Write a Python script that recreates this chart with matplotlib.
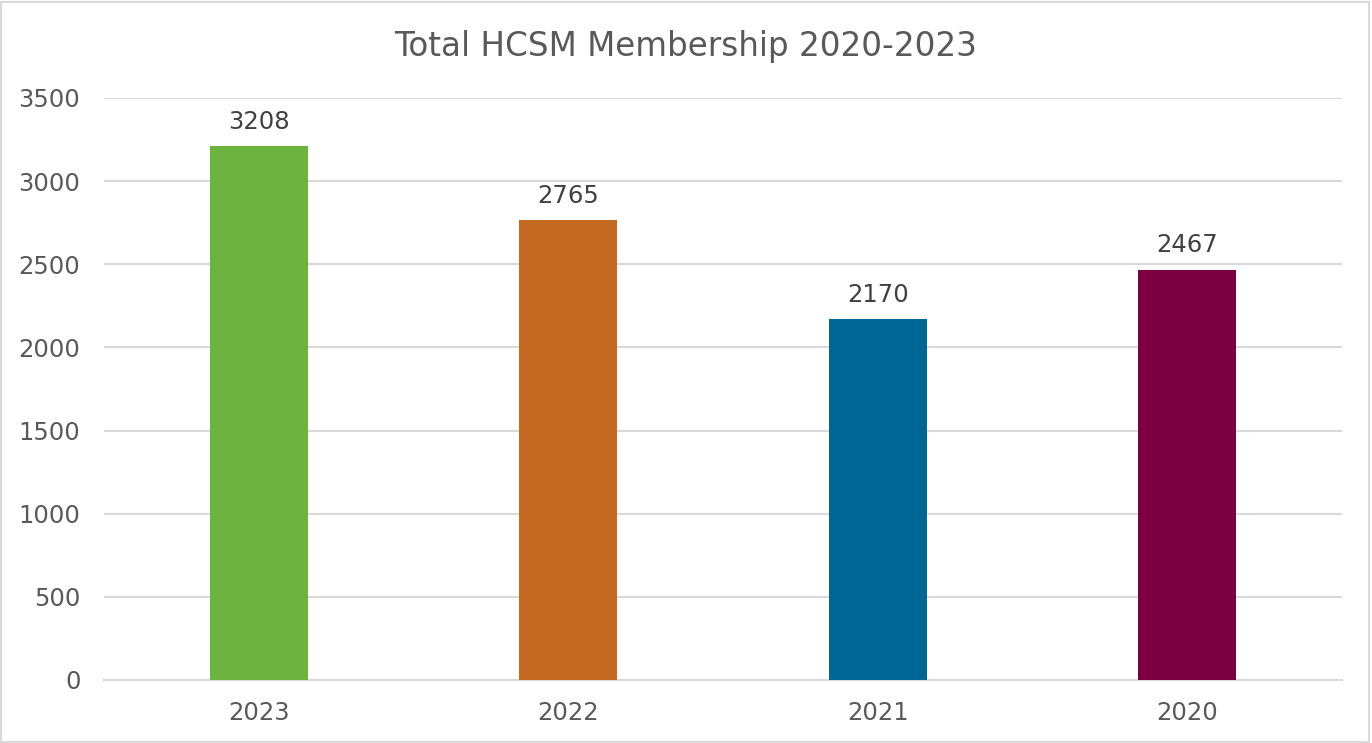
import matplotlib.pyplot as plt
from matplotlib.patches import Rectangle

years = ['2023', '2022', '2021', '2020']
members = [3208, 2765, 2170, 2467]
colors = ['#6db33f', '#c46a23', '#006695', '#7b0041']

fig = plt.figure(figsize=(13.72, 7.43), dpi=100)
ax = fig.add_axes([0.0758, 0.0848, 0.9022, 0.7835])

x = range(len(years))
bars = ax.bar(x, members, width=0.317, color=colors, zorder=3)

ax.set_xlim(-0.5, len(years) - 0.5)
ax.set_ylim(0, 3500)
ax.set_yticks(range(0, 3501, 500))
ax.set_xticks(list(x))
ax.set_xticklabels(years)

ax.grid(axis='y', color='#d9d9d9', linewidth=1.5, zorder=0)
for s in ['top', 'right', 'left']:
    ax.spines[s].set_visible(False)
ax.spines['bottom'].set_color('#d9d9d9')
ax.spines['bottom'].set_linewidth(1.5)
ax.tick_params(length=0, labelsize=17.5, colors='#595959')
ax.tick_params(axis='x', pad=15)
ax.tick_params(axis='y', pad=17)

for b, v in zip(bars, members):
    ax.annotate(str(v), (b.get_x() + b.get_width() / 2, v),
                xytext=(0, 9), textcoords='offset points',
                ha='center', va='bottom', fontsize=17.5, color='#404040')

fig.text(0.5, 0.938, 'Total HCSM Membership 2020-2023', ha='center', va='center',
         fontsize=23.5, color='#595959')

# light border around the chart
fig.patches.append(Rectangle((0.001, 0.001), 0.997, 0.996, transform=fig.transFigure,
                             fill=False, edgecolor='#d9d9d9', linewidth=1.5))

fig.savefig('out.png', dpi=100)
